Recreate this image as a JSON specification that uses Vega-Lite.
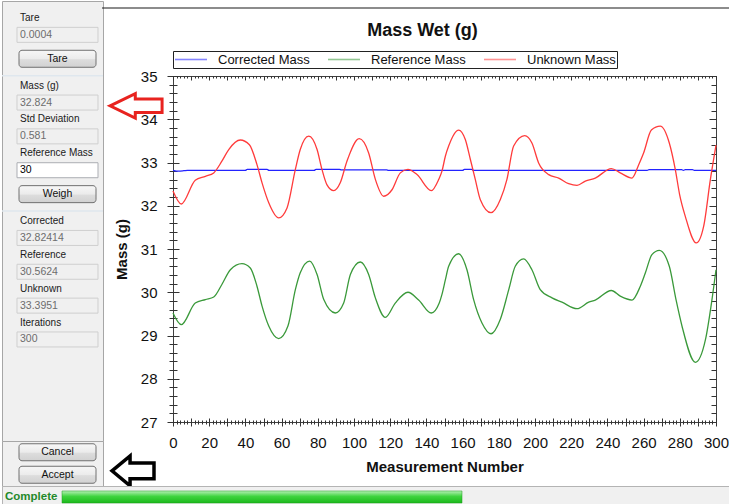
{
  "$schema": "https://vega.github.io/schema/vega-lite/v6.json",
  "background": "white",
  "padding": 0,
  "config": {"font": "Liberation Sans", "view": {"stroke": null}, "axis": {"tickColor": "#333333", "tickWidth": 1}},
  "spacing": 485,
  "bounds": "flush",
  "resolve": {"scale": {"color": "independent"}, "legend": {"color": "independent"}},
  "vconcat": [
    {
      "spacing": 171,
      "bounds": "flush",
      "resolve": {"scale": {"color": "independent"}, "legend": {"color": "independent"}},
      "hconcat": [
        {
          "spacing": 0,
          "bounds": "flush",
          "vconcat": [
            {
              "width": 101,
              "height": 440,
              "view": {"fill": "#f0f0f0", "stroke": "#a6a6a6"},
              "data": {"values": [
                {"slot": "Tare", "kind": "label", "text": "Tare"},
                {"slot": "Tare value", "kind": "box", "text": "0.0004"},
                {"slot": "Tare button", "kind": "button", "text": "Tare"},
                {"slot": "sep1", "kind": "sep", "text": ""},
                {"slot": "Mass (g)", "kind": "label", "text": "Mass (g)"},
                {"slot": "Mass value", "kind": "box", "text": "32.824"},
                {"slot": "Std Deviation", "kind": "label", "text": "Std Deviation"},
                {"slot": "Std value", "kind": "box", "text": "0.581"},
                {"slot": "Reference Mass", "kind": "label", "text": "Reference Mass"},
                {"slot": "Reference Mass value", "kind": "input", "text": "30"},
                {"slot": "Weigh button", "kind": "button", "text": "Weigh"},
                {"slot": "sep2", "kind": "sep", "text": ""},
                {"slot": "Corrected", "kind": "label", "text": "Corrected"},
                {"slot": "Corrected value", "kind": "box", "text": "32.82414"},
                {"slot": "Reference", "kind": "label", "text": "Reference"},
                {"slot": "Reference value", "kind": "box", "text": "30.5624"},
                {"slot": "Unknown", "kind": "label", "text": "Unknown"},
                {"slot": "Unknown value", "kind": "box", "text": "33.3951"},
                {"slot": "Iterations", "kind": "label", "text": "Iterations"},
                {"slot": "Iterations value", "kind": "box", "text": "300"}
              ]},
              "encoding": {
                "y": {"field": "slot", "type": "nominal", "axis": null,
                  "scale": {"type": "point", "padding": 1.2, "domain": ["Tare", "Tare value", "Tare button", "sep1", "Mass (g)", "Mass value", "Std Deviation", "Std value", "Reference Mass", "Reference Mass value", "Weigh button", "sep2", "Corrected", "Corrected value", "Reference", "Reference value", "Unknown", "Unknown value", "Iterations", "Iterations value", "s20", "s21", "s22", "s23", "s24"]}}
              },
              "layer": [
                {
                  "transform": [{"filter": "datum.kind === 'sep'"}],
                  "mark": {"type": "rule", "color": "#dfe7ee", "strokeWidth": 1.5, "yOffset": 7},
                  "encoding": {"x": {"value": 0}, "x2": {"value": 101}}
                },
                {
                  "transform": [{"filter": "datum.kind === 'box' || datum.kind === 'input'"}],
                  "mark": {"type": "rect", "height": 15, "strokeWidth": 1},
                  "encoding": {
                    "x": {"value": 15}, "x2": {"value": 96},
                    "fill": {"condition": {"test": "datum.kind === 'input'", "value": "white"}, "value": "#f0f0f0"},
                    "stroke": {"condition": {"test": "datum.kind === 'input'", "value": "#abadb3"}, "value": "#cfcfcf"}
                  }
                },
                {
                  "transform": [{"filter": "datum.kind === 'box' || datum.kind === 'input'"}],
                  "mark": {"type": "text", "align": "left", "baseline": "middle", "fontSize": 10.5},
                  "encoding": {
                    "x": {"value": 18},
                    "text": {"field": "text"},
                    "color": {"condition": {"test": "datum.kind === 'input'", "value": "#000000"}, "value": "#6d6d6d"}
                  }
                },
                {
                  "transform": [{"filter": "datum.kind === 'button'"}],
                  "mark": {"type": "rect", "height": 17, "yOffset": 7, "cornerRadius": 3, "stroke": "#707070", "strokeWidth": 1,
                    "fill": {"gradient": "linear", "x1": 0, "y1": 0, "x2": 0, "y2": 1, "stops": [{"offset": 0, "color": "#f7f7f7"}, {"offset": 0.5, "color": "#ebebeb"}, {"offset": 0.55, "color": "#dddddd"}, {"offset": 1, "color": "#d1d1d1"}]}},
                  "encoding": {"x": {"value": 17}, "x2": {"value": 94}}
                },
                {
                  "transform": [{"filter": "datum.kind === 'button'"}],
                  "mark": {"type": "text", "align": "center", "baseline": "middle", "fontSize": 10.5, "yOffset": 7, "color": "#111111"},
                  "encoding": {"x": {"value": 55.5}, "text": {"field": "text"}}
                },
                {
                  "transform": [{"filter": "datum.kind === 'label'"}],
                  "mark": {"type": "text", "align": "left", "baseline": "middle", "fontSize": 10, "color": "#1a1a1a"},
                  "encoding": {"x": {"value": 18}, "text": {"field": "text"}}
                }
              ]
            },
            {
              "width": 101,
              "height": 45,
              "view": {"fill": "#f0f0f0", "stroke": "#a6a6a6"},
              "data": {"values": [{"slot": "Cancel", "text": "Cancel"}, {"slot": "Accept", "text": "Accept"}]},
              "encoding": {"y": {"field": "slot", "type": "nominal", "axis": null, "scale": {"type": "point", "domain": ["Cancel", "Accept"], "padding": 0.5}}},
              "layer": [
                {
                  "mark": {"type": "rect", "height": 17, "cornerRadius": 3, "stroke": "#707070", "strokeWidth": 1,
                    "fill": {"gradient": "linear", "x1": 0, "y1": 0, "x2": 0, "y2": 1, "stops": [{"offset": 0, "color": "#f7f7f7"}, {"offset": 0.5, "color": "#ebebeb"}, {"offset": 0.55, "color": "#dddddd"}, {"offset": 1, "color": "#d1d1d1"}]}},
                  "encoding": {"x": {"value": 17}, "x2": {"value": 94}}
                },
                {
                  "mark": {"type": "text", "align": "center", "baseline": "middle", "fontSize": 10.5, "color": "#111111"},
                  "encoding": {"x": {"value": 55.5}, "text": {"field": "text"}}
                }
              ]
            }
          ]
        },
        {
          "spacing": 0,
          "bounds": "flush",
          "resolve": {"scale": {"color": "independent"}, "legend": {"color": "independent"}},
          "vconcat": [
            {
              "width": 543,
              "height": 75,
              "view": {"stroke": null},
              "data": {"values": [{"edge": "top"}]},
              "mark": {"type": "rule", "color": "#1a1a1a", "strokeWidth": 1.2},
              "encoding": {"x": {"value": -71}, "x2": {"value": 558}, "y": {"value": 7}}
            },
            {
              "width": 543,
              "height": 346,
              "view": {"stroke": "#404040", "strokeWidth": 1},
              "title": {"text": "Mass Wet (g)", "fontSize": 18, "fontWeight": "bold", "color": "#111111", "anchor": "middle", "frame": "group", "dx": -22, "offset": 11},
              "data": {"values": [
                {"n": 0, "series": "Corrected Mass", "mass": 32.82},
                {"n": 3, "series": "Corrected Mass", "mass": 32.80},
                {"n": 6, "series": "Corrected Mass", "mass": 32.81},
                {"n": 8, "series": "Corrected Mass", "mass": 32.82},
                {"n": 40, "series": "Corrected Mass", "mass": 32.82},
                {"n": 41, "series": "Corrected Mass", "mass": 32.84},
                {"n": 52, "series": "Corrected Mass", "mass": 32.84},
                {"n": 53, "series": "Corrected Mass", "mass": 32.82},
                {"n": 78, "series": "Corrected Mass", "mass": 32.82},
                {"n": 79, "series": "Corrected Mass", "mass": 32.84},
                {"n": 92, "series": "Corrected Mass", "mass": 32.84},
                {"n": 93, "series": "Corrected Mass", "mass": 32.83},
                {"n": 118, "series": "Corrected Mass", "mass": 32.83},
                {"n": 119, "series": "Corrected Mass", "mass": 32.82},
                {"n": 160, "series": "Corrected Mass", "mass": 32.82},
                {"n": 161, "series": "Corrected Mass", "mass": 32.84},
                {"n": 165, "series": "Corrected Mass", "mass": 32.84},
                {"n": 166, "series": "Corrected Mass", "mass": 32.82},
                {"n": 262, "series": "Corrected Mass", "mass": 32.82},
                {"n": 263, "series": "Corrected Mass", "mass": 32.835},
                {"n": 281, "series": "Corrected Mass", "mass": 32.835},
                {"n": 282, "series": "Corrected Mass", "mass": 32.82},
                {"n": 283, "series": "Corrected Mass", "mass": 32.835},
                {"n": 287, "series": "Corrected Mass", "mass": 32.835},
                {"n": 288, "series": "Corrected Mass", "mass": 32.82},
                {"n": 300, "series": "Corrected Mass", "mass": 32.82},

                {"n": 0, "series": "Reference Mass", "mass": 29.52},
                {"n": 4.6, "series": "Reference Mass", "mass": 29.25},
                {"n": 12.3, "series": "Reference Mass", "mass": 29.75},
                {"n": 17.9, "series": "Reference Mass", "mass": 29.83},
                {"n": 22.5, "series": "Reference Mass", "mass": 29.89},
                {"n": 27, "series": "Reference Mass", "mass": 30.18},
                {"n": 31.7, "series": "Reference Mass", "mass": 30.52},
                {"n": 38.1, "series": "Reference Mass", "mass": 30.66},
                {"n": 42.7, "series": "Reference Mass", "mass": 30.56},
                {"n": 46.4, "series": "Reference Mass", "mass": 30.14},
                {"n": 49.2, "series": "Reference Mass", "mass": 29.68},
                {"n": 52.9, "series": "Reference Mass", "mass": 29.22},
                {"n": 58.4, "series": "Reference Mass", "mass": 28.93},
                {"n": 63.5, "series": "Reference Mass", "mass": 29.22},
                {"n": 67.6, "series": "Reference Mass", "mass": 30.06},
                {"n": 70.3, "series": "Reference Mass", "mass": 30.45},
                {"n": 75.5, "series": "Reference Mass", "mass": 30.72},
                {"n": 79.6, "series": "Reference Mass", "mass": 30.41},
                {"n": 83.3, "series": "Reference Mass", "mass": 29.83},
                {"n": 89.7, "series": "Reference Mass", "mass": 29.52},
                {"n": 94.3, "series": "Reference Mass", "mass": 29.75},
                {"n": 98, "series": "Reference Mass", "mass": 30.41},
                {"n": 103.5, "series": "Reference Mass", "mass": 30.70},
                {"n": 108.1, "series": "Reference Mass", "mass": 30.41},
                {"n": 111.8, "series": "Reference Mass", "mass": 29.87},
                {"n": 117.3, "series": "Reference Mass", "mass": 29.42},
                {"n": 122.8, "series": "Reference Mass", "mass": 29.75},
                {"n": 129.8, "series": "Reference Mass", "mass": 30.00},
                {"n": 135.7, "series": "Reference Mass", "mass": 29.82},
                {"n": 142.7, "series": "Reference Mass", "mass": 29.52},
                {"n": 147.1, "series": "Reference Mass", "mass": 29.75},
                {"n": 148.6, "series": "Reference Mass", "mass": 29.95},
                {"n": 150.5, "series": "Reference Mass", "mass": 30.29},
                {"n": 152.3, "series": "Reference Mass", "mass": 30.60},
                {"n": 157.8, "series": "Reference Mass", "mass": 30.89},
                {"n": 162.4, "series": "Reference Mass", "mass": 30.52},
                {"n": 166.1, "series": "Reference Mass", "mass": 29.83},
                {"n": 170.7, "series": "Reference Mass", "mass": 29.29},
                {"n": 175.7, "series": "Reference Mass", "mass": 29.04},
                {"n": 180.8, "series": "Reference Mass", "mass": 29.37},
                {"n": 185.5, "series": "Reference Mass", "mass": 30.06},
                {"n": 189.1, "series": "Reference Mass", "mass": 30.60},
                {"n": 193.7, "series": "Reference Mass", "mass": 30.77},
                {"n": 198.3, "series": "Reference Mass", "mass": 30.52},
                {"n": 202.9, "series": "Reference Mass", "mass": 30.06},
                {"n": 209.4, "series": "Reference Mass", "mass": 29.87},
                {"n": 214.9, "series": "Reference Mass", "mass": 29.77},
                {"n": 223.2, "series": "Reference Mass", "mass": 29.62},
                {"n": 229.7, "series": "Reference Mass", "mass": 29.77},
                {"n": 233.3, "series": "Reference Mass", "mass": 29.82},
                {"n": 242.2, "series": "Reference Mass", "mass": 30.04},
                {"n": 247.1, "series": "Reference Mass", "mass": 29.91},
                {"n": 253.6, "series": "Reference Mass", "mass": 29.82},
                {"n": 258.2, "series": "Reference Mass", "mass": 30.14},
                {"n": 261, "series": "Reference Mass", "mass": 30.45},
                {"n": 264.6, "series": "Reference Mass", "mass": 30.87},
                {"n": 268.7, "series": "Reference Mass", "mass": 30.97},
                {"n": 274.2, "series": "Reference Mass", "mass": 30.60},
                {"n": 277.9, "series": "Reference Mass", "mass": 29.83},
                {"n": 281.2, "series": "Reference Mass", "mass": 29.22},
                {"n": 288.6, "series": "Reference Mass", "mass": 28.38},
                {"n": 294.2, "series": "Reference Mass", "mass": 28.91},
                {"n": 297.5, "series": "Reference Mass", "mass": 29.75},
                {"n": 300, "series": "Reference Mass", "mass": 30.52},

                {"n": 0, "series": "Unknown Mass", "mass": 32.34},
                {"n": 4.6, "series": "Unknown Mass", "mass": 32.04},
                {"n": 12.3, "series": "Unknown Mass", "mass": 32.59},
                {"n": 17.9, "series": "Unknown Mass", "mass": 32.68},
                {"n": 22.5, "series": "Unknown Mass", "mass": 32.76},
                {"n": 27, "series": "Unknown Mass", "mass": 33.03},
                {"n": 30.8, "series": "Unknown Mass", "mass": 33.30},
                {"n": 37.2, "series": "Unknown Mass", "mass": 33.52},
                {"n": 42.2, "series": "Unknown Mass", "mass": 33.41},
                {"n": 46.4, "series": "Unknown Mass", "mass": 32.95},
                {"n": 49.2, "series": "Unknown Mass", "mass": 32.53},
                {"n": 52.9, "series": "Unknown Mass", "mass": 32.07},
                {"n": 58.4, "series": "Unknown Mass", "mass": 31.72},
                {"n": 63, "series": "Unknown Mass", "mass": 31.95},
                {"n": 67.6, "series": "Unknown Mass", "mass": 32.84},
                {"n": 70.3, "series": "Unknown Mass", "mass": 33.30},
                {"n": 75, "series": "Unknown Mass", "mass": 33.61},
                {"n": 79.6, "series": "Unknown Mass", "mass": 33.30},
                {"n": 82.3, "series": "Unknown Mass", "mass": 32.84},
                {"n": 85, "series": "Unknown Mass", "mass": 32.49},
                {"n": 88.8, "series": "Unknown Mass", "mass": 32.35},
                {"n": 92.4, "series": "Unknown Mass", "mass": 32.53},
                {"n": 96.1, "series": "Unknown Mass", "mass": 33.03},
                {"n": 102.9, "series": "Unknown Mass", "mass": 33.55},
                {"n": 108.1, "series": "Unknown Mass", "mass": 33.22},
                {"n": 111.8, "series": "Unknown Mass", "mass": 32.61},
                {"n": 116.4, "series": "Unknown Mass", "mass": 32.22},
                {"n": 121, "series": "Unknown Mass", "mass": 32.37},
                {"n": 125.6, "series": "Unknown Mass", "mass": 32.76},
                {"n": 129.8, "series": "Unknown Mass", "mass": 32.84},
                {"n": 134.8, "series": "Unknown Mass", "mass": 32.72},
                {"n": 142.7, "series": "Unknown Mass", "mass": 32.35},
                {"n": 146.8, "series": "Unknown Mass", "mass": 32.61},
                {"n": 148.6, "series": "Unknown Mass", "mass": 32.80},
                {"n": 150.5, "series": "Unknown Mass", "mass": 33.15},
                {"n": 152.3, "series": "Unknown Mass", "mass": 33.38},
                {"n": 157.8, "series": "Unknown Mass", "mass": 33.75},
                {"n": 161.5, "series": "Unknown Mass", "mass": 33.53},
                {"n": 164.3, "series": "Unknown Mass", "mass": 33.07},
                {"n": 167, "series": "Unknown Mass", "mass": 32.61},
                {"n": 169.8, "series": "Unknown Mass", "mass": 32.14},
                {"n": 175.7, "series": "Unknown Mass", "mass": 31.84},
                {"n": 180.8, "series": "Unknown Mass", "mass": 32.14},
                {"n": 184.5, "series": "Unknown Mass", "mass": 32.61},
                {"n": 188.2, "series": "Unknown Mass", "mass": 33.38},
                {"n": 194.3, "series": "Unknown Mass", "mass": 33.62},
                {"n": 198.3, "series": "Unknown Mass", "mass": 33.45},
                {"n": 202, "series": "Unknown Mass", "mass": 32.99},
                {"n": 207.6, "series": "Unknown Mass", "mass": 32.72},
                {"n": 213.1, "series": "Unknown Mass", "mass": 32.64},
                {"n": 218.6, "series": "Unknown Mass", "mass": 32.51},
                {"n": 223.2, "series": "Unknown Mass", "mass": 32.47},
                {"n": 227.8, "series": "Unknown Mass", "mass": 32.57},
                {"n": 233.3, "series": "Unknown Mass", "mass": 32.64},
                {"n": 242.2, "series": "Unknown Mass", "mass": 32.86},
                {"n": 247.1, "series": "Unknown Mass", "mass": 32.76},
                {"n": 253.6, "series": "Unknown Mass", "mass": 32.64},
                {"n": 257.3, "series": "Unknown Mass", "mass": 32.95},
                {"n": 260, "series": "Unknown Mass", "mass": 33.22},
                {"n": 264.3, "series": "Unknown Mass", "mass": 33.75},
                {"n": 269.2, "series": "Unknown Mass", "mass": 33.84},
                {"n": 274.2, "series": "Unknown Mass", "mass": 33.45},
                {"n": 277.5, "series": "Unknown Mass", "mass": 32.84},
                {"n": 279.9, "series": "Unknown Mass", "mass": 32.26},
                {"n": 283, "series": "Unknown Mass", "mass": 31.76},
                {"n": 289.1, "series": "Unknown Mass", "mass": 31.14},
                {"n": 293.2, "series": "Unknown Mass", "mass": 31.53},
                {"n": 296.9, "series": "Unknown Mass", "mass": 32.61},
                {"n": 300, "series": "Unknown Mass", "mass": 33.40}
              ]},
              "layer": [
                {
                  "mark": {"type": "line", "interpolate": "monotone", "strokeWidth": 1.3},
                  "encoding": {
                    "x": {"field": "n", "type": "quantitative", "scale": {"domain": [0, 300], "nice": false, "zero": false},
                      "axis": {"orient": "bottom", "values": [0, 10, 20, 30, 40, 50, 60, 70, 80, 90, 100, 110, 120, 130, 140, 150, 160, 170, 180, 190, 200, 210, 220, 230, 240, 250, 260, 270, 280, 290, 300],
                        "labelExpr": "datum.value % 20 === 0 ? datum.label : ''", "offset": -4, "tickSize": 8, "domain": false, "grid": false,
                        "labelPadding": 9, "labelFontSize": 15, "labelColor": "#111111", "labelFlush": false, "labelOverlap": false,
                        "title": "Measurement Number", "titleFontSize": 15, "titleFontWeight": "bold", "titleColor": "#111111", "titlePadding": 9}},
                    "y": {"field": "mass", "type": "quantitative", "scale": {"domain": [27, 35], "nice": false, "zero": false},
                      "axis": {"orient": "left", "values": [27, 28, 29, 30, 31, 32, 33, 34, 35], "offset": -6, "tickSize": 12, "domain": false, "grid": false,
                        "labelPadding": 10, "labelFontSize": 15, "labelColor": "#111111", "labelFlush": false, "labelOverlap": false,
                        "title": "Mass (g)", "titleFontSize": 15, "titleFontWeight": "bold", "titleColor": "#111111", "titlePadding": 11}},
                    "color": {"field": "series", "type": "nominal",
                      "scale": {"domain": ["Corrected Mass", "Reference Mass", "Unknown Mass"], "range": ["#2323ff", "#3a993a", "#ff3b3b"]},
                      "legend": {"orient": "top", "direction": "horizontal", "title": null, "symbolType": "stroke", "symbolSize": 1024, "symbolStrokeWidth": 1.6, "symbolOpacity": 0.55,
                        "clipHeight": 15, "labelFontSize": 13, "labelColor": "#111111", "strokeColor": "#222222", "fillColor": "white", "padding": 1, "columnPadding": 17, "labelOffset": 10, "offset": 7}}
                  }
                },
                {
                  "mark": {"type": "point", "opacity": 0},
                  "encoding": {
                    "x": {"field": "n", "type": "quantitative", "scale": {"domain": [0, 300], "nice": false, "zero": false},
                      "axis": {"orient": "bottom", "tickCount": 150, "offset": -2, "tickSize": 4, "labels": false, "domain": false, "grid": false, "title": null}},
                    "y": {"field": "mass", "type": "quantitative", "scale": {"domain": [27, 35], "nice": false, "zero": false},
                      "axis": {"orient": "left", "tickCount": 40, "offset": -4, "tickSize": 8, "labels": false, "domain": false, "grid": false, "title": null}}
                  }
                },
                {
                  "mark": {"type": "point", "opacity": 0},
                  "encoding": {
                    "x": {"field": "n", "type": "quantitative", "scale": {"domain": [0, 300], "nice": false, "zero": false},
                      "axis": {"orient": "top", "values": [0, 10, 20, 30, 40, 50, 60, 70, 80, 90, 100, 110, 120, 130, 140, 150, 160, 170, 180, 190, 200, 210, 220, 230, 240, 250, 260, 270, 280, 290, 300], "offset": -4, "tickSize": 4, "labels": false, "domain": false, "grid": false, "title": null}},
                    "y": {"field": "mass", "type": "quantitative", "scale": {"domain": [27, 35], "nice": false, "zero": false},
                      "axis": {"orient": "right", "values": [27, 28, 29, 30, 31, 32, 33, 34, 35], "offset": -7, "tickSize": 7, "labels": false, "domain": false, "grid": false, "title": null}}
                  }
                },
                {
                  "mark": {"type": "point", "opacity": 0},
                  "encoding": {
                    "x": {"field": "n", "type": "quantitative", "scale": {"domain": [0, 300], "nice": false, "zero": false},
                      "axis": {"orient": "top", "tickCount": 150, "offset": -2, "tickSize": 2, "labels": false, "domain": false, "grid": false, "title": null}},
                    "y": {"field": "mass", "type": "quantitative", "scale": {"domain": [27, 35], "nice": false, "zero": false},
                      "axis": {"orient": "right", "tickCount": 40, "offset": -5, "tickSize": 5, "labels": false, "domain": false, "grid": false, "title": null}}
                  }
                },
                {
                  "data": {"values": [{"note": "weighed mass"}]},
                  "mark": {"type": "point", "shape": "M -1 0 L -0.03 -0.47 L -0.03 -0.26 L 1 -0.26 L 1 0.26 L -0.03 0.26 L -0.03 0.47 Z", "size": 2704, "filled": true, "fill": "white", "fillOpacity": 1, "stroke": "#e8231f", "strokeOpacity": 1, "strokeWidth": 3},
                  "encoding": {
                    "x": {"datum": -20.4, "type": "quantitative", "scale": {"domain": [0, 300], "nice": false, "zero": false}, "axis": null},
                    "y": {"datum": 34.31, "type": "quantitative", "scale": {"domain": [27, 35], "nice": false, "zero": false}, "axis": null}
                  }
                },
                {
                  "data": {"values": [{"note": "accept"}]},
                  "mark": {"type": "point", "shape": "M -1 0 L -0.14 -0.71 L -0.14 -0.38 L 1 -0.38 L 1 0.38 L -0.14 0.38 L -0.14 0.71 Z", "size": 1764, "filled": true, "fill": "white", "fillOpacity": 1, "stroke": "#000000", "strokeOpacity": 1, "strokeWidth": 3.5},
                  "encoding": {
                    "x": {"datum": -22.1, "type": "quantitative", "scale": {"domain": [0, 300], "nice": false, "zero": false}, "axis": null},
                    "y": {"datum": 25.87, "type": "quantitative", "scale": {"domain": [27, 35], "nice": false, "zero": false}, "axis": null}
                  }
                }
              ],
              "resolve": {"axis": {"x": "independent", "y": "independent"}}
            }
          ]
        }
      ]
    },
    {
      "width": 729,
      "height": 19,
      "view": {"fill": "#f0f0f0", "stroke": "#b4b4b4"},
      "data": {"values": [{"status": "Complete", "progress": 100}]},
      "encoding": {"y": {"field": "status", "type": "nominal", "axis": null, "scale": {"paddingInner": 0, "paddingOuter": 0.29}}},
      "layer": [
        {
          "mark": {"type": "bar", "yOffset": 1.5, "stroke": "#1e9e1e", "strokeWidth": 0.5,
            "fill": {"gradient": "linear", "x1": 0, "y1": 0, "x2": 0, "y2": 1, "stops": [{"offset": 0, "color": "#b5f0b5"}, {"offset": 0.45, "color": "#3ed43e"}, {"offset": 1, "color": "#1bb81b"}]}},
          "encoding": {"x": {"field": "progress", "type": "quantitative", "axis": null, "scale": {"domain": [-15, 167.25], "nice": false, "zero": false}}}
        },
        {
          "mark": {"type": "text", "align": "left", "baseline": "middle", "dx": 3, "yOffset": 1.5, "fontSize": 11.5, "fontWeight": "bold", "color": "#23892a"},
          "encoding": {
            "x": {"datum": -15, "type": "quantitative", "axis": null, "scale": {"domain": [-15, 167.25], "nice": false, "zero": false}},
            "text": {"field": "status"}
          }
        }
      ]
    }
  ]
}
